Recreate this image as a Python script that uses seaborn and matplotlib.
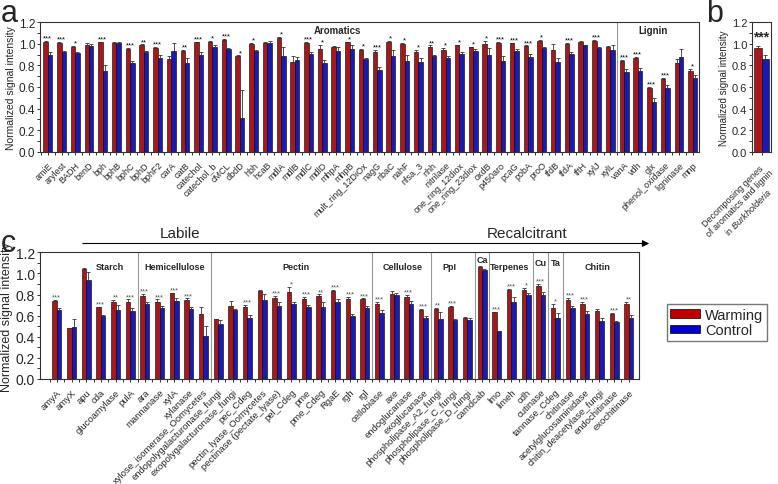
import matplotlib
matplotlib.use("Agg")
import matplotlib.pyplot as plt
import seaborn as sns
import pandas as pd
import numpy as np
from matplotlib.patches import Patch
from matplotlib.ticker import MultipleLocator, FixedLocator

# ---- panel a: aromatics + lignin genes ----
a_genes = ["amiE", "arylest", "BADH", "benD", "bph", "bphB", "bphC", "bphD", "bphF2", "carA",
           "catB", "catechol", "catechol_b", "cMCL", "dbdD", "hbh", "hcaB", "mdlA", "mdlB", "mdlC",
           "mdlD", "mhpA", "mhpB", "mult_ring_12DiOx", "nagG", "nbaC", "nahF", "nfsa_3", "nhh",
           "nitrilase", "one_ring_12diox", "one_ring_23diox", "oxdB", "p450aro", "pcaG", "pobA",
           "proO", "tfdB", "tfdA", "tftH", "xylJ", "xylL", "vanA", "vdh", "glx", "phenol_oxidase",
           "ligninase", "mnp"]
a_warming = [1.02, 1.005, 0.968, 0.99, 1.015, 1.01, 0.953, 0.99, 0.96, 0.857,
             0.934, 1.015, 1.02, 1.04, 0.888, 1.00, 1.01, 1.058, 0.83, 1.01,
             0.953, 0.968, 1.015, 0.94, 0.928, 1.02, 1.00, 0.92, 0.975,
             0.945, 0.985, 0.97, 1.00, 1.01, 1.005, 0.98,
             1.025, 0.94, 1.00, 1.015, 1.025, 0.975, 0.845, 0.87, 0.59, 0.675,
             0.82, 0.75]
a_control = [0.90, 0.92, 0.913, 0.98, 0.745, 1.01, 0.826, 0.928, 0.87, 0.934,
             0.826, 0.90, 0.975, 0.95, 0.31, 0.93, 1.01, 0.89, 0.85, 0.91,
             0.82, 0.93, 0.95, 0.86, 0.758, 0.885, 0.845, 0.83, 0.89,
             0.87, 0.905, 0.93, 0.90, 0.845, 0.93, 0.88,
             0.96, 0.83, 0.905, 0.985, 0.96, 0.94, 0.74, 0.745, 0.465, 0.595,
             0.875, 0.68]
a_warming_err = [0.01, 0.01, 0.01, 0.015, 0.005, 0.01, 0.01, 0.005, 0.01, 0.03,
                 0.01, 0.005, 0.01, 0.005, 0.005, 0.01, 0.005, 0.005, 0.06, 0.005,
                 0.04, 0.01, 0.005, 0.015, 0.015, 0.005, 0.005, 0.02, 0.01,
                 0.02, 0.005, 0.005, 0.03, 0.01, 0.005, 0.005,
                 0.015, 0.06, 0.005, 0.01, 0.01, 0.005, 0.01, 0.005, 0.01, 0.01,
                 0.04, 0.015]
a_control_err = [0.02, 0.015, 0.01, 0.015, 0.06, 0.01, 0.015, 0.01, 0.03, 0.07,
                 0.04, 0.02, 0.01, 0.015, 0.26, 0.01, 0.015, 0.08, 0.03, 0.015,
                 0.03, 0.04, 0.04, 0.01, 0.03, 0.06, 0.05, 0.04, 0.01,
                 0.02, 0.02, 0.02, 0.06, 0.04, 0.02, 0.03,
                 0.01, 0.04, 0.02, 0.005, 0.01, 0.05, 0.03, 0.03, 0.03, 0.02,
                 0.08, 0.03]
a_sig = ["***", "***", "*", "", "***", "", "***", "**", "***", "",
         "**", "***", "*", "***", "*", "*", "", "*", "", "***",
         "*", "", "*", "*", "***", "*", "*", "*", "**",
         "*", "*", "*", "*", "***", "***", "***",
         "*", "", "***", "", "***", "", "***", "***", "***", "***",
         "", "*"]

# ---- panel b ----
b_gene = ["Decomposing genes\nof aromatics and lignin\nin $\\it{Burkholderia}$"]
b_warming = [0.965]
b_control = [0.86]
b_warming_err = [0.015]
b_control_err = [0.035]

# ---- panel c: carbon degradation genes ----
c_genes = ["amyA", "amyX", "apu", "cda", "glucoamylase", "pulA",
           "ara", "mannanase", "xylA", "xylanase", "xylose_isomerase_Oomycetes",
           "endopolygalacturonase_fungi", "exopolygalacturonase_fungi", "pec_Cdeg",
           "pectin_lyase_Oomycetes", "pectinase (pectate_lyase)", "pel_Cdeg", "pme", "pme_Cdeg",
           "RgaE", "rgh", "rgl",
           "cellobiase", "axe", "endoglucanase", "exoglucanase",
           "phospholipase_A2_fungi", "phospholipase_C_fungi", "phospholipase_D_fungi",
           "camdcab", "lmo", "limeh", "cdh", "cutinase", "tannase_Cdeg",
           "chitinase", "acetylglucosaminidase", "chitin_deacetylase_fungi", "endochitinase",
           "exochitinase"]
c_warming = [0.735, 0.48, 1.042, 0.679, 0.726, 0.733,
             0.789, 0.729, 0.813, 0.748, 0.612,
             0.568, 0.695, 0.679, 0.837, 0.767, 0.821, 0.761, 0.786,
             0.83, 0.755, 0.758,
             0.707, 0.802, 0.78, 0.654,
             0.663, 0.679, 0.575,
             1.058, 0.632, 0.846, 0.843, 0.878, 0.669,
             0.748, 0.71, 0.641, 0.616, 0.707]
c_control = [0.65, 0.49, 0.938, 0.60, 0.657, 0.644,
             0.71, 0.673, 0.735, 0.66, 0.41,
             0.523, 0.654, 0.575, 0.752, 0.695, 0.71, 0.685, 0.685,
             0.729, 0.597, 0.676,
             0.628, 0.796, 0.71, 0.575,
             0.568, 0.559, 0.559,
             1.036, 0.452, 0.733, 0.796, 0.796, 0.575,
             0.669, 0.616, 0.546, 0.54, 0.575]
c_warming_err = [0.01, 0.005, 0.005, 0.005, 0.02, 0.02,
                 0.015, 0.025, 0.005, 0.015, 0.07,
                 0.005, 0.04, 0.02, 0.005, 0.02, 0.05, 0.02, 0.015,
                 0.01, 0.02, 0.005,
                 0.02, 0.03, 0.02, 0.01,
                 0.01, 0.01, 0.01,
                 0.01, 0.005, 0.01, 0.02, 0.02, 0.04,
                 0.02, 0.02, 0.02, 0.01, 0.02]
c_control_err = [0.02, 0.08, 0.08, 0.01, 0.04, 0.03,
                 0.02, 0.02, 0.03, 0.025, 0.09,
                 0.04, 0.01, 0.03, 0.05, 0.03, 0.015, 0.015, 0.04,
                 0.03, 0.02, 0.015,
                 0.025, 0.02, 0.025, 0.02,
                 0.07, 0.01, 0.02,
                 0.01, 0.005, 0.04, 0.02, 0.03, 0.05,
                 0.02, 0.025, 0.03, 0.01, 0.035]
c_sig = ["***", "", "", "***", "**", "***",
         "***", "***", "***", "***", "",
         "", "", "***", "", "***", "*", "***", "**",
         "***", "***", "***",
         "***", "", "***", "***",
         "**", "***", "",
         "", "***", "***", "*", "***", "*",
         "***", "***", "", "***", "**"]
c_sections = ["Starch", "Hemicellulose", "Pectin", "Cellulose", "PpI", "Ca", "Terpenes", "Cu", "Ta", "Chitin"]
c_section_x = [3.6, 8.0, 16.3, 23.6, 26.8, 29.0, 30.9, 33.0, 34.0, 36.9]
c_section_y = [1.07, 1.07, 1.07, 1.07, 1.07, 1.13, 1.07, 1.10, 1.10, 1.07]
c_breaks = [5.5, 10.5, 21.5, 25.5, 28.5, 29.5, 32.5, 33.5, 34.5]

sns.set_style("ticks")
plt.rcParams['font.family'] = ['Liberation Sans', 'DejaVu Sans']
plt.rcParams['mathtext.fontset'] = 'custom'
plt.rcParams['mathtext.rm'] = 'Liberation Sans'
plt.rcParams['mathtext.it'] = 'Liberation Sans:italic'

red = '#C00000'
blue = '#0000CC'
pal = {'Warming': red, 'Control': blue}


def draw_bars(ax, genes, w, c, we, ce, width):
    df = pd.DataFrame({'gene': genes * 2,
                       'treatment': ['Warming'] * len(genes) + ['Control'] * len(genes),
                       'value': w + c})
    sns.barplot(data=df, x='gene', y='value', hue='treatment', order=genes,
                hue_order=['Warming', 'Control'], palette=pal, width=width,
                errorbar=None, edgecolor='black', linewidth=0.4, legend=False, ax=ax)
    for cont, vals, errs in zip(ax.containers, [w, c], [we, ce]):
        xs = [p.get_x() + p.get_width() / 2 for p in cont]
        ax.errorbar(xs, vals, yerr=[np.zeros(len(vals)), errs], fmt='none',
                    ecolor='#333333', elinewidth=0.6, capsize=1.3, capthick=0.6)


def add_sig(ax, sig, w, c, we, ce, size, color):
    for i, s in enumerate(sig):
        if s:
            top = max(w[i] + we[i], c[i] + ce[i])
            ax.text(i, top - 0.005, s, ha='center', va='bottom', fontsize=size, color=color)


def style_axis(ax, n, ytick_size):
    for sp in ax.spines.values():
        sp.set_visible(True)
        sp.set_color('#333333')
        sp.set_linewidth(0.8)
    ax.set_ylim(0, 1.2)
    ax.yaxis.set_major_locator(MultipleLocator(0.2))
    ax.yaxis.set_minor_locator(MultipleLocator(0.1))
    ax.xaxis.set_minor_locator(FixedLocator(np.arange(n) - 0.5))
    ax.tick_params(axis='both', which='both', direction='out', length=2.5, width=0.7, color='#333333')
    ax.tick_params(axis='y', labelsize=ytick_size, pad=1)
    ax.set_xlabel('')


fig = plt.figure(figsize=(7.78, 4.85), dpi=100)

# panel a
ax_a = fig.add_axes([40 / 778, 1 - 152.7 / 485, 659 / 778, 129.4 / 485])
draw_bars(ax_a, a_genes, a_warming, a_control, a_warming_err, a_control_err, 0.65)
add_sig(ax_a, a_sig, a_warming, a_control, a_warming_err, a_control_err, 5.5, 'black')
style_axis(ax_a, len(a_genes), 8.5)
ax_a.set_xlim(-0.57, len(a_genes) - 0.54)
ax_a.set_xticks(range(len(a_genes)))
ax_a.set_xticklabels(a_genes, rotation=45, ha='right', rotation_mode='anchor', fontsize=6.5)
ax_a.set_ylabel('Normalized signal intensity', fontsize=7.5, labelpad=2)
ax_a.axvline(41.5, color='#999999', lw=0.8)
ax_a.text(21.1, 1.13, 'Aromatics', ha='center', va='center', fontsize=7, fontweight='bold')
ax_a.text(44.1, 1.13, 'Lignin', ha='center', va='center', fontsize=7, fontweight='bold')

# panel b
ax_b = fig.add_axes([752 / 778, 1 - 152.7 / 485, 19 / 778, 129.4 / 485])
draw_bars(ax_b, b_gene, b_warming, b_control, b_warming_err, b_control_err, 0.8)
style_axis(ax_b, 1, 8)
ax_b.set_xlim(-0.5, 0.5)
ax_b.set_xticks([0])
ax_b.set_xticklabels(b_gene, rotation=45, ha='right', rotation_mode='anchor',
                     fontsize=6.5, multialignment='center')
ax_b.set_ylabel('Normalized signal intensity', fontsize=7, labelpad=2)
ax_b.text(0, 1.0, '***', ha='center', va='bottom', fontsize=10, fontweight='bold')

# panel c
ax_c = fig.add_axes([40 / 778, 1 - 380 / 485, 599 / 778, 126.7 / 485])
draw_bars(ax_c, c_genes, c_warming, c_control, c_warming_err, c_control_err, 0.62)
add_sig(ax_c, c_sig, c_warming, c_control, c_warming_err, c_control_err, 5.5, '#555555')
style_axis(ax_c, len(c_genes), 10)
ax_c.set_xlim(-1.15, len(c_genes) - 0.3)
ax_c.set_xticks(range(len(c_genes)))
ax_c.set_xticklabels(c_genes, rotation=45, ha='right', rotation_mode='anchor', fontsize=6.8)
ax_c.set_ylabel('Normalized signal intensity', fontsize=9, labelpad=2)
for xb in c_breaks:
    ax_c.axvline(xb, color='#999999', lw=0.8)
for name, xs, ys in zip(c_sections, c_section_x, c_section_y):
    ax_c.text(xs, ys, name, ha='center', va='center', fontsize=6.5, fontweight='bold')

# labile -> recalcitrant arrow
ax_c.annotate('', xy=(652 / 778, 1 - 244.5 / 485), xytext=(80 / 778, 1 - 244.5 / 485),
              xycoords='figure fraction', textcoords='figure fraction',
              arrowprops=dict(arrowstyle='-|>', color='black', lw=0.8, mutation_scale=10))
fig.text(180 / 778, 1 - 234 / 485, 'Labile', ha='center', va='center', fontsize=11)
fig.text(527 / 778, 1 - 234 / 485, 'Recalcitrant', ha='center', va='center', fontsize=11)

# panel letters
fig.text(1 / 778, 1 - 14 / 485, 'a', fontsize=22, va='center', ha='left')
fig.text(706 / 778, 1 - 14 / 485, 'b', fontsize=22, va='center', ha='left')
fig.text(1 / 778, 1 - 244 / 485, 'c', fontsize=22, va='center', ha='left')

handles = [Patch(facecolor=red, edgecolor='black', linewidth=0.5, label='Warming'),
           Patch(facecolor=blue, edgecolor='black', linewidth=0.5, label='Control')]
fig.legend(handles=handles, loc='center', bbox_to_anchor=(717 / 778, 1 - 323.5 / 485),
           fontsize=10.5, frameon=True, fancybox=False, edgecolor='#555555',
           handlelength=2.0, handleheight=0.55, borderpad=0.25, labelspacing=0.1,
           handletextpad=0.4, borderaxespad=0)

fig.savefig('out.png', dpi=100)
